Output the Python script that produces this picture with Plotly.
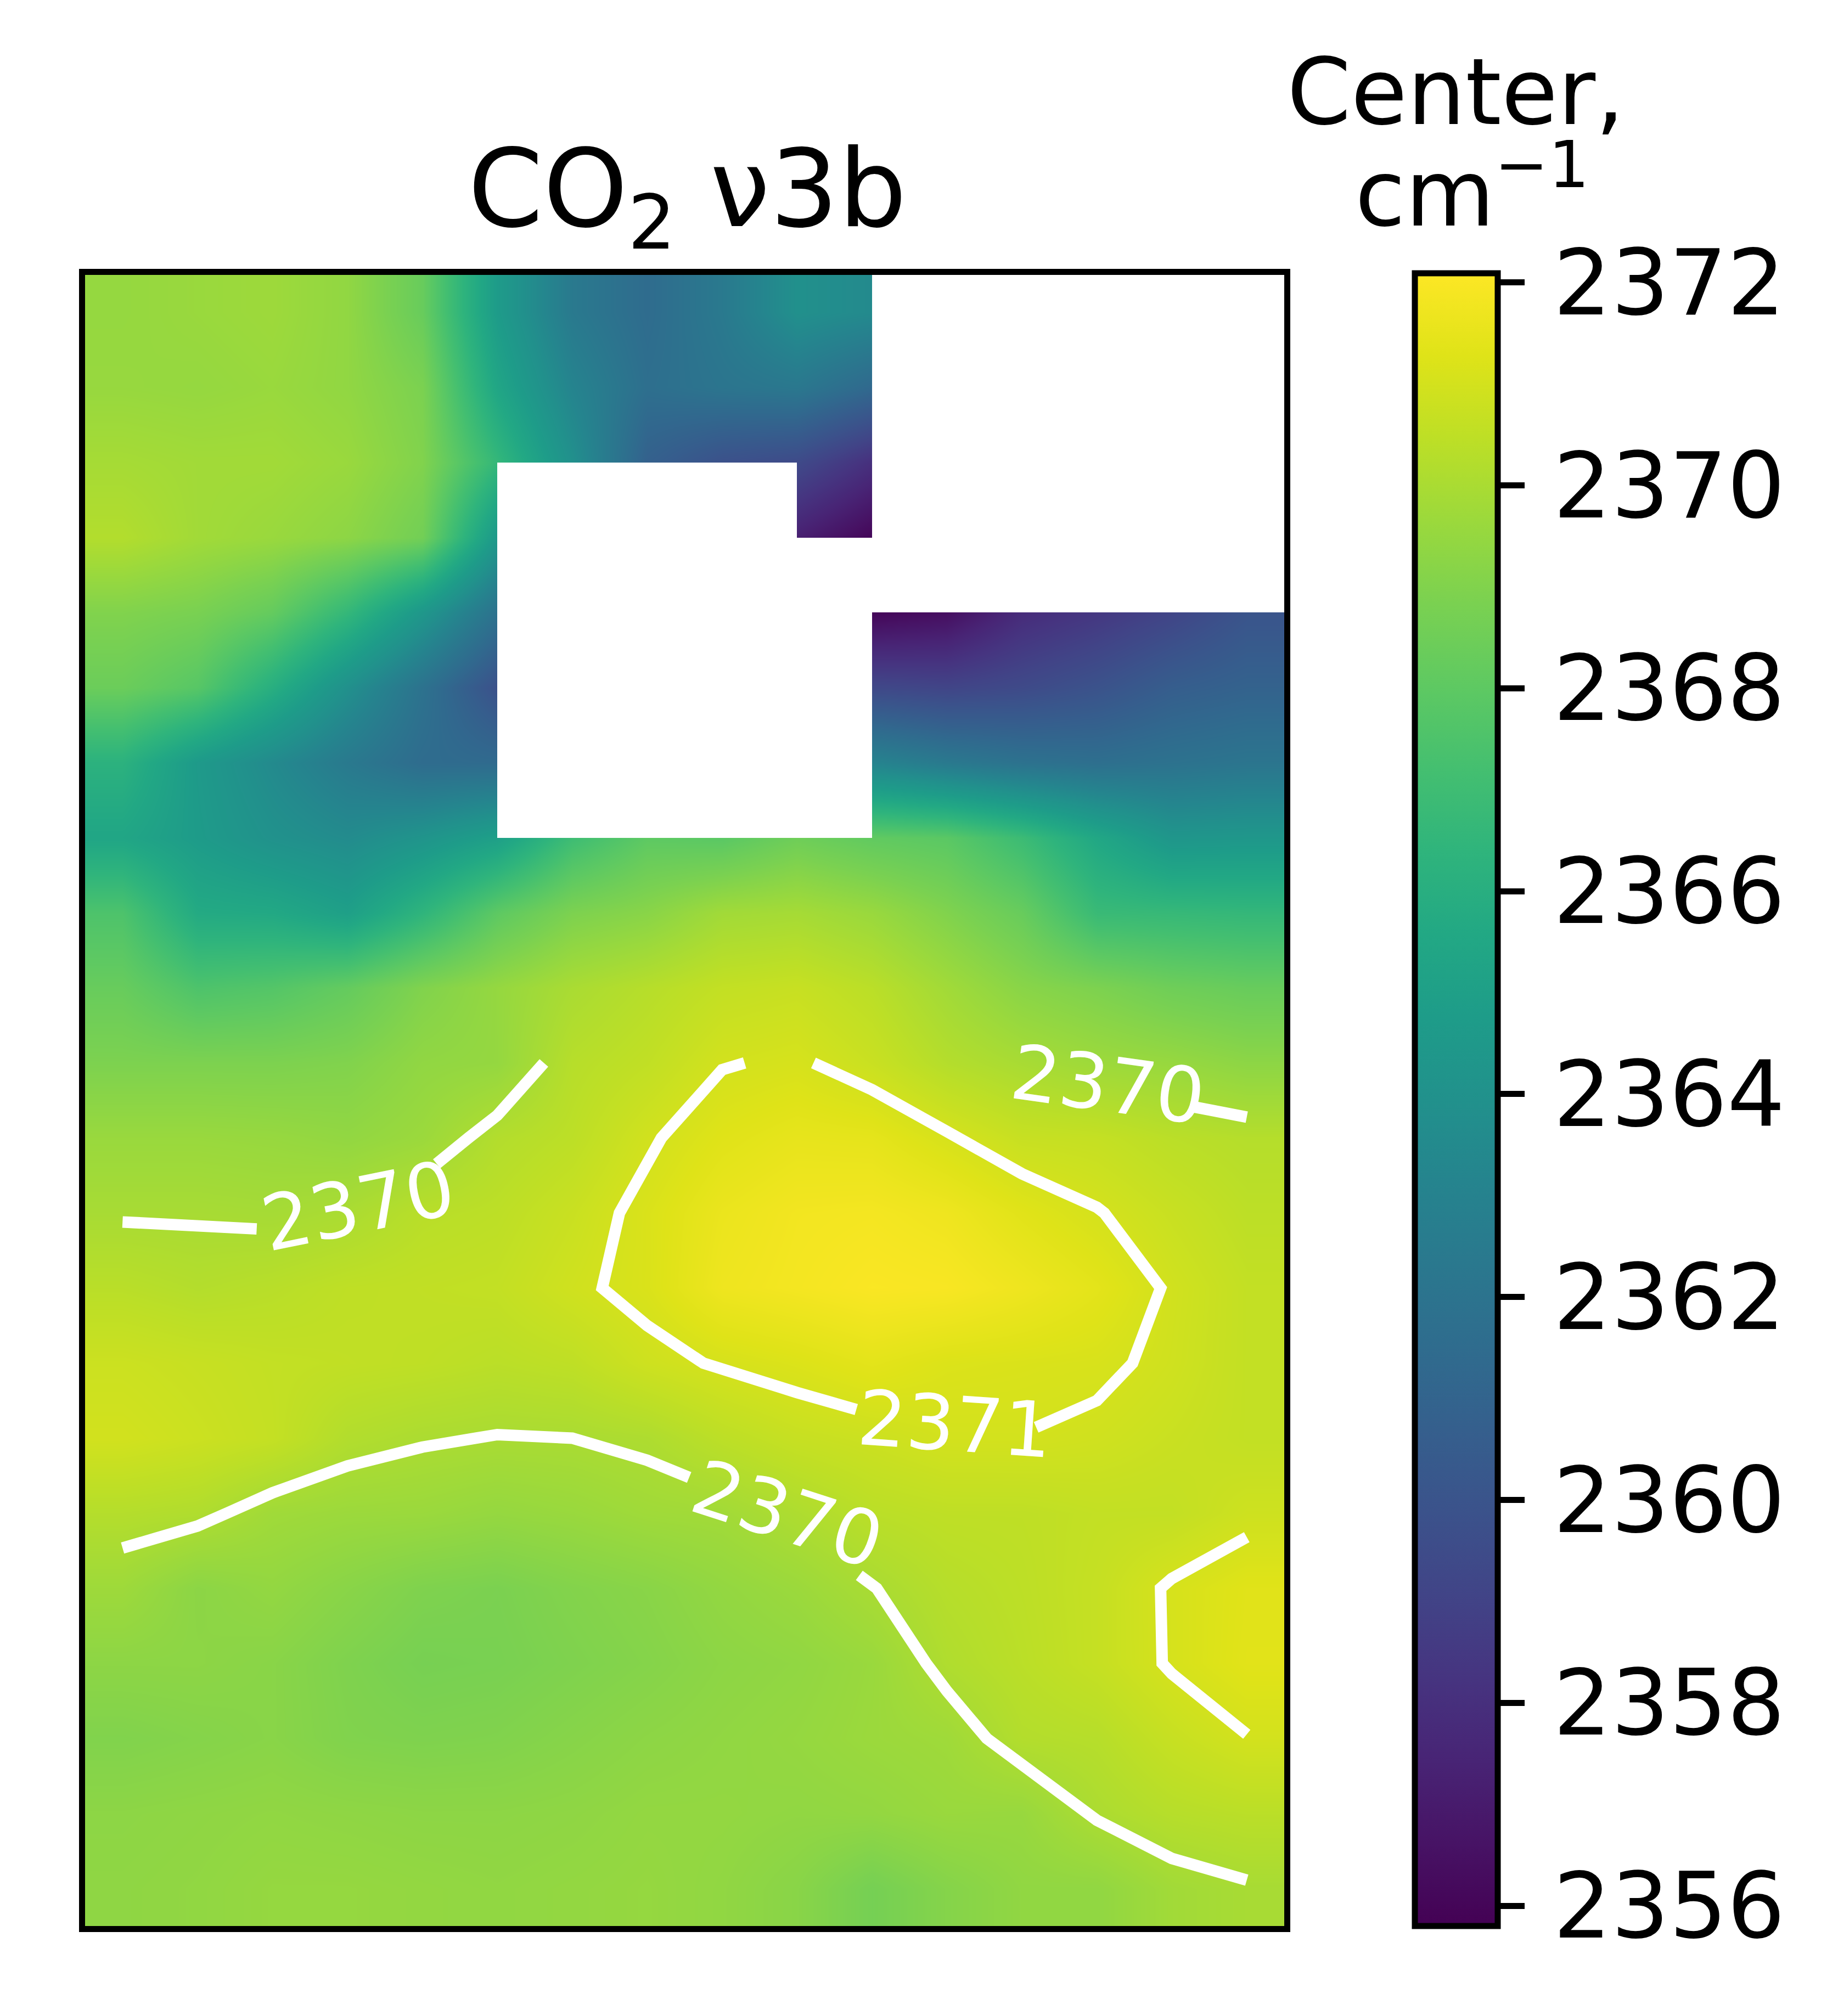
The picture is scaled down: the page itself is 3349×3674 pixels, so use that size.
import plotly.graph_objects as go

N = None
row_00 = [2369.5, 2369.6, 2369.7, 2369.4, 2368.3, 2364.7, 2362.4, 2361.5, 2362.4, 2363.9, 2363.5, N, N, N, N, N]
row_01 = [2369.55, 2369.5, 2369.6, 2369.4, 2368.85, 2365.4, 2363.1, 2361.7, 2362.1, 2362.3, 2361.3, N, N, N, N, N]
row_02 = [2369.9, 2369.8, 2369.8, 2369.6, 2369.0, 2366.6, 2363.9, 2360.8, 2359.8, 2359.4, 2358.0, N, N, N, N, N]
row_03 = [2370.2, 2369.8, 2369.6, 2369.3, 2368.6, 2364.5, N, N, N, 2357.2, 2356.0, N, N, N, N, N]
row_04 = [2369.0, 2368.8, 2368.2, 2366.6, 2364.4, 2361.9, N, N, N, N, 2356.0, 2356.4, 2357.8, 2358.4, 2359.1, 2360.0]
row_05 = [2368.4, 2367.8, 2366.0, 2363.9, 2361.9, 2359.8, N, N, N, N, 2359.3, 2359.1, 2359.4, 2359.9, 2360.6, 2360.9]
row_06 = [2366.2, 2364.6, 2363.5, 2362.4, 2361.5, 2361.4, N, N, N, N, 2363.1, 2362.4, 2361.9, 2361.7, 2361.9, 2362.1]
row_07 = [2365.4, 2364.7, 2364.0, 2363.6, 2364.2, 2365.0, 2367.0, 2368.0, 2367.9, 2368.5, 2368.1, 2367.9, 2366.9, 2365.5, 2364.3, 2364.4]
row_08 = [2367.5, 2365.7, 2365.6, 2365.0, 2366.4, 2368.0, 2368.9, 2369.2, 2369.8, 2369.9, 2369.6, 2369.0, 2368.3, 2366.8, 2366.7, 2366.6]
row_09 = [2368.3, 2367.5, 2367.7, 2368.2, 2369.0, 2369.5, 2370.0, 2370.3, 2370.6, 2370.7, 2370.4, 2369.8, 2369.2, 2368.9, 2368.5, 2368.3]
row_10 = [2368.9, 2368.9, 2368.9, 2369.0, 2369.4, 2369.49, 2370.31, 2370.55, 2370.97, 2371.07, 2370.75, 2370.25, 2369.96, 2369.7, 2369.55, 2369.3]
row_11 = [2369.6, 2369.6, 2369.55, 2369.43, 2369.65, 2370.22, 2370.45, 2370.93, 2371.3, 2371.5, 2371.45, 2371.07, 2370.7, 2370.64, 2370.4, 2370.27]
row_12 = [2369.95, 2369.95, 2369.9, 2370.03, 2370.35, 2370.45, 2370.745, 2371.15, 2371.6, 2371.8, 2371.85, 2371.7, 2371.33, 2371.03, 2370.73, 2370.45]
row_13 = [2370.37, 2370.24, 2370.35, 2370.5, 2370.55, 2370.6, 2370.9, 2371.15, 2371.7, 2371.85, 2372.0, 2371.95, 2371.7, 2371.4, 2370.93, 2370.6]
row_14 = [2370.8, 2370.7, 2370.6, 2370.55, 2370.5, 2370.4, 2370.5, 2370.85, 2371.05, 2371.2, 2371.4, 2371.2, 2371.15, 2371.1, 2370.89, 2370.6]
row_15 = [2370.95, 2370.8, 2370.63, 2370.2, 2370.05, 2369.98, 2370.0, 2370.1, 2370.45, 2370.69, 2370.81, 2370.98, 2370.99, 2370.9, 2370.75, 2370.6]
row_16 = [2370.25, 2370.15, 2369.765, 2369.66, 2369.63, 2369.5, 2369.6, 2369.76, 2369.81, 2370.1, 2370.4, 2370.5, 2370.5, 2370.6, 2370.6, 2370.85]
row_17 = [2369.71, 2369.27, 2369.45, 2369.2, 2368.95, 2368.85, 2369.05, 2369.2, 2369.45, 2369.65, 2369.98, 2370.3, 2370.45, 2370.66, 2371.06, 2371.32]
row_18 = [2369.3, 2369.3, 2369.2, 2368.95, 2368.75, 2368.8, 2368.95, 2369.1, 2369.3, 2369.4, 2369.61, 2370.15, 2370.4, 2370.66, 2371.05, 2371.35]
row_19 = [2369.0, 2369.1, 2369.2, 2369.0, 2368.95, 2369.0, 2369.15, 2369.3, 2369.4, 2369.5, 2369.65, 2369.745, 2370.226, 2370.3, 2370.69, 2370.98]
row_20 = [2369.3, 2369.35, 2369.4, 2369.35, 2369.3, 2369.3, 2369.35, 2369.45, 2369.45, 2369.4, 2369.45, 2369.6, 2369.56, 2370.06, 2370.3, 2370.4]
row_21 = [2369.35, 2369.4, 2369.5, 2369.5, 2369.45, 2369.4, 2369.45, 2369.5, 2369.4, 2369.2, 2368.7, 2369.1, 2369.4, 2369.4, 2369.8, 2369.95]

center = [row_00, row_01, row_02, row_03, row_04, row_05, row_06, row_07, row_08, row_09, row_10,
          row_11, row_12, row_13, row_14, row_15, row_16, row_17, row_18, row_19, row_20, row_21]
cbar_ticks = [2356, 2358, 2360, 2362, 2364, 2366, 2368, 2370, 2372]
contour_levels = [2370, 2371]
contour_first_row = 10
title_text = "CO<sub>2</sub> ν3b"
cbar_title_lines = ["Center,", "cm<sup>−1</sup>"]
viridis = ["#440154", "#471365", "#482475", "#463480", "#414487", "#3b528b", "#355f8d",
           "#2f6c8e", "#2a788e", "#25848e", "#21918c", "#1e9c89", "#22a884", "#2fb47c",
           "#44bf70", "#5ec962", "#7ad151", "#9bd93c", "#bddf26", "#dfe318", "#fde725"]

# Inline contour labels: level, column, row, angle, and the break they leave in the line.
label_level = [2370, 2370, 2370, 2371]
label_col = [3.15, 13.15, 8.87, 11.11]
label_row = [11.91, 10.29, 16.02, 14.82]
label_angle = [-11.5, 8, 18, 4]
gap_col = [2.99, 13.03, 8.69, 10.99]
gap_row = [11.78, 10.29, 16.18, 14.74]
gap_radius = [1.27, 1.27, 1.3, 1.2]

n_rows, n_cols = len(center), len(center[0])
xs = list(range(n_cols))
ys = list(range(n_rows))

# An interpolated pixel is blank when any grid corner around it is missing.
x_edges = [-0.5] + xs + [n_cols - 0.5]
y_edges = [-0.5] + ys + [n_rows - 0.5]
def corners_missing(j, i):
    rows = {min(max(j - 1, 0), n_rows - 1), min(j, n_rows - 1)}
    cols = {min(max(i - 1, 0), n_cols - 1), min(i, n_cols - 1)}
    return any(center[r][c] is None for r in rows for c in cols)
mask = [[1 if corners_missing(j, i) else None for i in range(n_cols + 1)] for j in range(n_rows + 1)]


def contour_paths(level):
    """Trace the level through the grid from contour_first_row down, as chained polylines."""
    pts, links = {}, {}
    def edge_point(kind, j, i):
        if kind == "h":
            a, b = center[j][i], center[j][i + 1]
            return (i + (level - a) / (b - a), float(j))
        a, b = center[j][i], center[j + 1][i]
        return (float(i), j + (level - a) / (b - a))
    for j in range(contour_first_row, n_rows - 1):
        for i in range(n_cols - 1):
            a, b, c, d = center[j][i], center[j][i + 1], center[j + 1][i + 1], center[j + 1][i]
            crossed = []
            if (a < level) != (b < level):
                crossed.append(("h", j, i))
            if (b < level) != (c < level):
                crossed.append(("v", j, i + 1))
            if (d < level) != (c < level):
                crossed.append(("h", j + 1, i))
            if (a < level) != (d < level):
                crossed.append(("v", j, i))
            for e in crossed:
                pts[e] = edge_point(*e)
            for p, q in zip(crossed[0::2], crossed[1::2]):
                links.setdefault(p, []).append(q)
                links.setdefault(q, []).append(p)
    paths, seen = [], set()
    starts = [e for e, v in links.items() if len(v) == 1] + list(links)
    for s in starts:
        if s in seen:
            continue
        path, cur, prev = [s], s, None
        seen.add(s)
        while True:
            nxt = [e for e in links[cur] if e != prev and e not in seen]
            if not nxt:
                closing = [e for e in links[cur] if e == s and prev != s]
                if closing:
                    path.append(s)
                break
            prev, cur = cur, nxt[0]
            seen.add(cur)
            path.append(cur)
        paths.append([pts[e] for e in path])
    return paths


def line_with_gaps(level):
    gaps = [(gap_col[k], gap_row[k], gap_radius[k]) for k in range(len(label_level)) if label_level[k] == level]
    X, Y = [], []
    for path in contour_paths(level):
        drawing = False
        for (x0, y0), (x1, y1) in zip(path, path[1:]):
            steps = max(1, int(max(abs(x1 - x0), abs(y1 - y0)) / 0.01))
            for s in range(steps + 1):
                x, y = x0 + (x1 - x0) * s / steps, y0 + (y1 - y0) * s / steps
                hidden = any((x - gx) ** 2 + (y - gy) ** 2 < r ** 2 for gx, gy, r in gaps)
                if hidden:
                    if drawing:
                        X.append(None)
                        Y.append(None)
                    drawing = False
                else:
                    # keep only the polyline's corners and the break ends
                    if not drawing or s in (0, steps):
                        X.append(x)
                        Y.append(y)
                    else:
                        nx = x0 + (x1 - x0) * (s + 1) / steps
                        ny = y0 + (y1 - y0) * (s + 1) / steps
                        if any((nx - gx) ** 2 + (ny - gy) ** 2 < r ** 2 for gx, gy, r in gaps):
                            X.append(x)
                            Y.append(y)
                    drawing = True
        X.append(None)
        Y.append(None)
    return X, Y


W, H = 3349, 3674
OFF = 8  # the page body's own margin
L, R, T, B = 155 - OFF, 2340 - OFF, 501 - OFF, 3510 - OFF
FONT = "DejaVu Sans"
zmin, zmax = 2355.80, 2372.09
CLEAR = "rgba(0,0,0,0)"

bar_geometry = dict(
    lenmode="pixels", len=B - T + 3, thicknessmode="pixels", thickness=151,
    xref="paper", yref="paper",
    x=(2577.5 - OFF) / W, xanchor="left", xpad=0, y=1 - (T - 3) / H, yanchor="top", ypad=0,
    borderwidth=0, ticks="outside", tickwidth=11,
    tickmode="array", tickvals=cbar_ticks,
)

fig = go.Figure()
# Invisible twin of the colour bar: it only carries the tick labels, set further out.
fig.add_trace(go.Heatmap(
    x=xs, y=ys, z=center, zmin=zmin, zmax=zmax, hoverinfo="skip",
    colorscale=[[0, CLEAR], [1, CLEAR]],
    colorbar=dict(**bar_geometry, ticklen=63, tickcolor=CLEAR, outlinecolor=CLEAR, outlinewidth=11,
                  tickfont=dict(family=FONT, size=166, color="black")),
))
fig.add_trace(go.Heatmap(
    x=xs, y=ys, z=center, zsmooth="best",
    colorscale=[[k / (len(viridis) - 1), c] for k, c in enumerate(viridis)],
    zmin=zmin, zmax=zmax, hoverongaps=False,
    colorbar=dict(**bar_geometry, ticklen=44, tickcolor="black", outlinecolor="black", outlinewidth=11,
                  showticklabels=False),
))
fig.add_trace(go.Heatmap(
    x=x_edges, y=y_edges, z=mask, zsmooth=False, showscale=False, hoverinfo="skip",
    colorscale=[[0, "white"], [1, "white"]],
))
for level in contour_levels:
    lx, ly = line_with_gaps(level)
    fig.add_trace(go.Scatter(x=lx, y=ly, mode="lines", name=str(level), hoverinfo="skip",
                             line=dict(color="white", width=21), showlegend=False))

annotations = [
    dict(text=str(label_level[k]), x=label_col[k], y=label_row[k], xref="x", yref="y",
         textangle=label_angle[k], showarrow=False, xanchor="center", yanchor="middle",
         font=dict(family=FONT, size=139, color="white"))
    for k in range(len(label_level))
]
annotations += [
    dict(text=cbar_title_lines[0], xref="paper", yref="paper", x=(2652 - OFF) / W, y=1 - (168 - OFF) / H,
         xanchor="center", yanchor="middle", showarrow=False, font=dict(family=FONT, size=167, color="black")),
    dict(text=cbar_title_lines[1], xref="paper", yref="paper", x=(2682 - OFF) / W, y=1 - (341 - OFF) / H,
         xanchor="center", yanchor="middle", showarrow=False, font=dict(family=FONT, size=167, color="black")),
]

fig.update_layout(
    width=W, height=H, autosize=False, margin=dict(l=0, r=0, t=0, b=0),
    paper_bgcolor="white", plot_bgcolor="white", showlegend=False,
    font=dict(family=FONT, color="black"),
    title=dict(text=title_text, font=dict(family=FONT, size=196), x=((L + R) / 2 + 5) / W, xanchor="center",
               xref="paper", yref="paper", y=1 - (412 - OFF) / H, yanchor="bottom", pad=dict(t=0, b=0, l=0, r=0)),
    xaxis=dict(domain=[L / W, R / W], range=[-0.5, n_cols - 0.5], showgrid=False, zeroline=False,
               showticklabels=False, ticks="", showline=True, linewidth=11, linecolor="black", mirror=True),
    yaxis=dict(domain=[1 - B / H, 1 - T / H], range=[n_rows - 0.5, -0.5], showgrid=False, zeroline=False,
               showticklabels=False, ticks="", showline=True, linewidth=11, linecolor="black", mirror=True),
    annotations=annotations,
)
fig.write_html("out.html")
